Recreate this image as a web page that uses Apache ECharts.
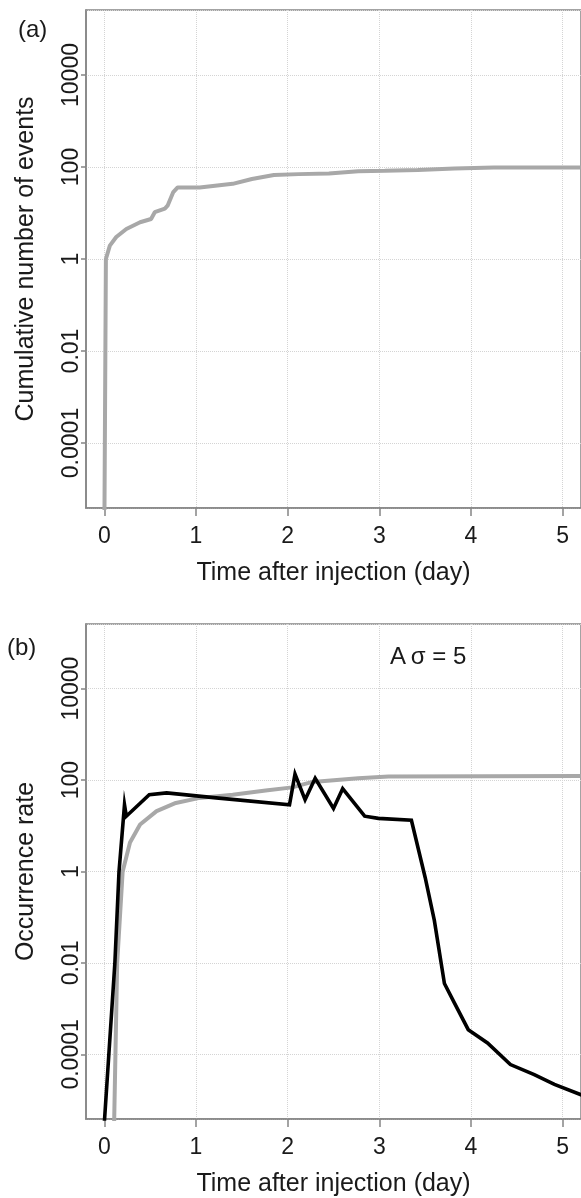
<!DOCTYPE html>
<html><head><meta charset="utf-8">
<script src="https://cdn.jsdelivr.net/npm/echarts@6/dist/echarts.min.js"></script>
<style>html,body{margin:0;padding:0;background:#fff}#c{width:581px;height:1198px}</style>
</head><body><div id="c"></div>
<script>
// ---- data ----
const xTicks = [0, 1, 2, 3, 4, 5];
const yTickLabels = ['0.0001', '0.01', '1', '100', '10000'];

// (a) cumulative number of events
const cumTime   = [0.0, 0.017, 0.06, 0.13, 0.24, 0.39, 0.51, 0.55, 0.66, 0.69, 0.75, 0.80, 1.04, 1.40, 1.61, 1.85, 2.12, 2.45, 2.77, 3.06, 3.42, 3.82, 4.25, 5.25];
const cumEvents = [1e-6, 1, 1.95, 3.0, 4.5, 6.3, 7.4, 10.4, 12.4, 14.4, 28, 36, 36, 43, 55, 67, 70, 72, 81, 83, 86, 93, 97, 97];

// (b) occurrence rate: grey (model) and black (A sigma = 5)
const greyTime = [0.107, 0.14, 0.20, 0.28, 0.39, 0.57, 0.78, 1.04, 1.40, 1.76, 2.05, 2.27, 2.77, 3.10, 5.25];
const greyRate = [3.2e-6, 0.01, 1, 4.3, 10.7, 20.9, 31.6, 40.7, 47.9, 58.9, 69.2, 91.2, 109.6, 120.2, 123];

const blackTime = [0.0, 0.115, 0.16, 0.22, 0.24, 0.49, 0.68, 1.22, 2.02, 2.08, 2.19, 2.30, 2.50, 2.60, 2.84, 2.99, 3.35, 3.50, 3.60, 3.71, 3.82, 3.97, 4.18, 4.43, 4.69, 4.91, 5.25];
const blackRate = [3.2e-6, 0.01, 1, 28.8, 16.2, 47.9, 52.5, 40.7, 28.8, 135, 37.2, 109.6, 24, 64.6, 16.2, 14.5, 13.2, 0.74, 0.085, 0.00355, 0.00132, 0.000347, 0.000178, 6.0e-5, 3.6e-5, 2.2e-5, 1.2e-5];

const panelLabels = ['(a)', '(b)'];
const yNames = ['Cumulative number of events', 'Occurrence rate'];
const xName = 'Time after injection (day)';
const annotation = 'A\u2009\u03c3 = 5';

// ---- chart ----
const FONT = '"Liberation Sans", Arial, Helvetica, sans-serif';
const TXT = '#1a1a1a';
const FRAME = '#858585';
const yMin = Math.pow(10, -5.413), yMax = Math.pow(10, 5.413);

function pairs(xs, ys) { return xs.map((t, i) => [t, ys[i]]); }

function yLabel(v) {
  const hit = yTickLabels.find(l => Math.abs(Math.log10(+l) - Math.log10(v)) < 1e-6);
  return hit || '';
}

const grids = [
  { left: 86, right: -3, top: 10, height: 498 },
  { left: 86, right: -3, top: 624, height: 498 }
].map(g => Object.assign(g, { show: true, borderColor: FRAME, borderWidth: 1.5, backgroundColor: 'transparent', containLabel: false }));

const xAxes = [0, 1].map(i => ({
  type: 'value', gridIndex: i, min: -0.2, max: 5.2,
  name: xName, nameLocation: 'middle', nameGap: 53,
  nameTextStyle: { fontFamily: FONT, fontSize: 25, color: TXT },
  axisLine: { show: true, onZero: false, lineStyle: { color: FRAME, width: 1.5 } },
  axisTick: { show: true, length: 8, lineStyle: { color: FRAME, width: 1.5 }, customValues: xTicks },
  axisLabel: { show: true, margin: 17, fontFamily: FONT, fontSize: 23, color: TXT, customValues: xTicks,
    formatter: v => xTicks.includes(v) ? String(v) : '' },
  splitLine: { show: true, lineStyle: { color: '#d4d4d4', type: 'dotted', width: 1 } }
}));

const yAxes = [0, 1].map(i => ({
  type: 'log', logBase: 100, gridIndex: i, min: yMin, max: yMax,
  name: yNames[i], nameLocation: 'middle', nameGap: 47, nameRotate: 90,
  nameTextStyle: { fontFamily: FONT, fontSize: 25, color: TXT },
  axisLine: { show: true, onZero: false, lineStyle: { color: FRAME, width: 1.5 } },
  axisTick: { show: true, length: 5, lineStyle: { color: FRAME, width: 1.5 } },
  axisLabel: { show: true, rotate: 90, margin: 3, fontFamily: FONT, fontSize: 23, color: TXT,
    formatter: yLabel, showMinLabel: false, showMaxLabel: false },
  splitLine: { show: true, lineStyle: { color: '#d4d4d4', type: 'dotted', width: 1 } },
  minorTick: { show: false }, minorSplitLine: { show: false }
}));

const chart = echarts.init(document.getElementById('c'), null, { renderer: 'canvas' });
chart.setOption({
  animation: false,
  backgroundColor: '#ffffff',
  grid: grids,
  xAxis: xAxes,
  yAxis: yAxes,
  series: [
    { type: 'line', xAxisIndex: 0, yAxisIndex: 0, data: pairs(cumTime, cumEvents), symbol: 'none',
      lineStyle: { color: '#a8a8a8', width: 4 }, clip: true, z: 3 },
    { type: 'line', xAxisIndex: 1, yAxisIndex: 1, data: pairs(greyTime, greyRate), symbol: 'none',
      lineStyle: { color: '#a8a8a8', width: 4 }, clip: true, z: 3 },
    { type: 'line', xAxisIndex: 1, yAxisIndex: 1, data: pairs(blackTime, blackRate), symbol: 'none',
      lineStyle: { color: '#000000', width: 3.6, join: 'miter' }, clip: true, z: 4 }
  ],
  graphic: [
    { type: 'text', left: 18, top: 18, style: { text: panelLabels[0], fontFamily: FONT, fontSize: 24, fill: TXT } },
    { type: 'text', left: 7, top: 636, style: { text: panelLabels[1], fontFamily: FONT, fontSize: 24, fill: TXT } },
    { type: 'text', left: 390, top: 645, style: { text: annotation, fontFamily: FONT, fontSize: 24, fill: TXT } }
  ]
});
</script>
</body></html>
